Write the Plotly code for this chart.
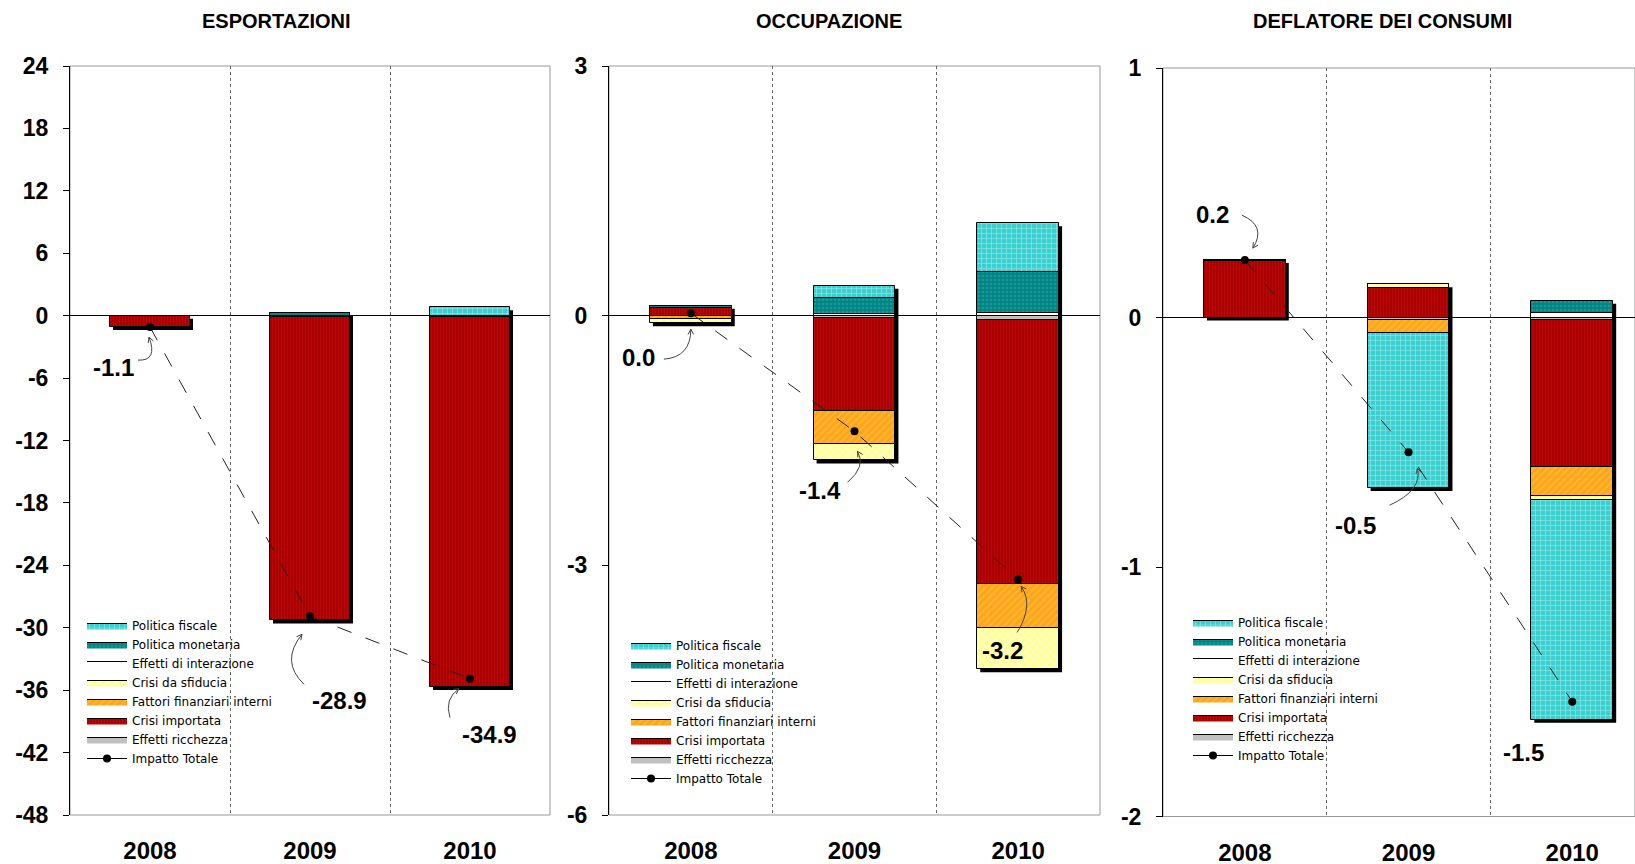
import math
import plotly.graph_objects as go

W, H = 1635, 864

# ---------------- data ----------------
years = ["2008", "2009", "2010"]
panel_titles = ["ESPORTAZIONI", "OCCUPAZIONE", "DEFLATORE DEI CONSUMI"]

# stacking order (from zero outwards)
series_names = ["Effetti ricchezza", "Crisi importata", "Fattori finanziari interni",
                "Crisi da sfiducia", "Effetti di interazione", "Politica monetaria",
                "Politica fiscale"]
total_name = "Impatto Totale"

# ESPORTAZIONI
esp_ricchezza = [0.0, -0.1, -0.1]
esp_crisi_importata = [-1.1, -29.2, -35.6]
esp_fattori = [0.0, 0.0, 0.0]
esp_sfiducia = [0.0, 0.0, 0.0]
esp_interazione = [0.0, 0.0, 0.0]
esp_monetaria = [0.0, 0.3, 0.0]
esp_fiscale = [0.0, 0.0, 0.8]
esp_totale = [-1.1, -28.9, -34.9]

# OCCUPAZIONE
occ_ricchezza = [0.0, -0.03, -0.05]
occ_crisi_importata = [0.09, -1.11, -3.18]
occ_fattori = [-0.04, -0.40, -0.52]
occ_sfiducia = [-0.05, -0.20, -0.50]
occ_interazione = [0.0, 0.02, 0.03]
occ_monetaria = [0.03, 0.19, 0.49]
occ_fiscale = [0.0, 0.15, 0.59]
occ_totale = [0.03, -1.39, -3.17]

# DEFLATORE DEI CONSUMI
def_ricchezza = [0.0, -0.01, -0.012]
def_crisi_importata = [0.225, 0.12, -0.588]
def_fattori = [0.0, -0.053, -0.117]
def_sfiducia = [0.005, 0.013, -0.016]
def_interazione = [0.0, 0.0, 0.017]
def_monetaria = [0.0, 0.0, 0.05]
def_fiscale = [0.0, -0.62, -0.879]
def_totale = [0.23, -0.54, -1.54]

y_ranges = [(-48, 24, 6), (-6, 3, 3), (-2, 1, 1)]

panel_values = [
    [esp_ricchezza, esp_crisi_importata, esp_fattori, esp_sfiducia, esp_interazione, esp_monetaria, esp_fiscale],
    [occ_ricchezza, occ_crisi_importata, occ_fattori, occ_sfiducia, occ_interazione, occ_monetaria, occ_fiscale],
    [def_ricchezza, def_crisi_importata, def_fattori, def_sfiducia, def_interazione, def_monetaria, def_fiscale],
]
panel_totals = [esp_totale, occ_totale, def_totale]

# ---------------- styles ----------------
FONT = "Liberation Sans, Arial, sans-serif"
LEG_FONT = "DejaVu Sans, Verdana, sans-serif"
styles = {
    "Politica fiscale": dict(color="#3CCFCF", pattern=dict(shape="+", fgcolor="#D8FFFF", size=5, solidity=0.25, fillmode="overlay")),
    "Politica monetaria": dict(color="#008484", pattern=dict(shape=".", fgcolor="#3AA7A7", size=4, solidity=0.35, fillmode="overlay")),
    "Effetti di interazione": dict(color="#FFFFFF"),
    "Crisi da sfiducia": dict(color="#FFFF99", pattern=dict(shape="x", fgcolor="#FFFFFF", size=6, solidity=0.3, fillmode="overlay")),
    "Fattori finanziari interni": dict(color="#FFA41C", pattern=dict(shape="/", fgcolor="#FFD040", size=5, solidity=0.35, fillmode="overlay")),
    "Crisi importata": dict(color="#A80000", pattern=dict(shape="|", fgcolor="#CC1010", size=3, solidity=0.4, fillmode="overlay")),
    "Effetti ricchezza": dict(color="#C0C0C0"),
}
legend_rank = {"Politica fiscale": 1, "Politica monetaria": 2, "Effetti di interazione": 3,
               "Crisi da sfiducia": 4, "Fattori finanziari interni": 5, "Crisi importata": 6,
               "Effetti ricchezza": 7}

# layout geometry in pixels
x_px = [(70, 550), (609, 1100), (1163, 1635)]
y_px = [(66, 815), (66, 815), (68, 816.5)]
x_ranges = [(-0.5, 2.5), (-0.5, 2.5), (-0.5, -0.5 + 472 / 163.7)]
title_x = [276, 829, 1382]
legend_pos = [(82, 611), (626, 631), (1188, 608)]
legend_gap = [0, 0, 2]

# annotation label offsets (px, y down) and curved arrows (start, control, end)
label_off = [
    [(-37, 40), (29, 84), (19, 56)],
    [(-52, 44), (-35, 59), (-16, 71)],
    [(-32, -46), (-53, 73), (-49, 51)],
]
curves = [
    [((-12, 33), (8, 34), (-1, 10)), ((-6, 68), (-30, 45), (-8, 18)), ((-20, 39), (-26, 20), (-11, 10))],
    [((-27, 46), (0, 44), (0, 16)), ((-7, 51), (12, 35), (3, 20)), ((-1, 53), (16, 25), (3, 7))],
    [((-3, -45), (22, -34), (8, -12)), ((-19, 53), (14, 38), (9, 16)), None],
]

fig = go.Figure()
shapes = []
annotations = []
xs = [0, 1, 2]
BAR_W = 0.5
SH = 3  # shadow offset px

for p in range(3):
    ax_sfx = "" if p == 0 else str(p + 1)
    xref, yref = "x" + ax_sfx, "y" + ax_sfx
    leg = "legend" if p == 0 else "legend" + str(p + 1)
    vals = panel_values[p]
    for name, v in zip(series_names, vals):
        st = styles[name]
        marker = dict(color=st["color"], line=dict(color="#000000", width=1))
        if "pattern" in st:
            marker["pattern"] = dict(st["pattern"], bgcolor=st["color"])
        fig.add_trace(go.Bar(
            x=xs, y=v, name=name, width=BAR_W, marker=marker,
            xaxis=xref, yaxis=yref, showlegend=False, hoverinfo="skip"))
        # legend entry (wide flat swatch like the original)
        fp = None
        if "pattern" in st:
            fp = dict(st["pattern"], bgcolor=st["color"])
        fig.add_trace(go.Scatter(
            x=[None], y=[None], name=name, mode="lines", fill="toself",
            fillcolor=st["color"], fillpattern=fp,
            line=dict(color="#000000", width=1),
            xaxis=xref, yaxis=yref, legend=leg, legendrank=legend_rank[name],
            legendgroup=f"p{p}_{name}", hoverinfo="skip"))
    tot = panel_totals[p]
    fig.add_trace(go.Scatter(
        x=xs, y=tot, name=total_name, mode="lines+markers",
        line=dict(color="#222222", width=1, dash="longdash"),
        marker=dict(color="#000000", size=8),
        xaxis=xref, yaxis=yref, showlegend=False, hoverinfo="skip"))
    fig.add_trace(go.Scatter(
        x=[None], y=[None], name=total_name, mode="lines+markers",
        line=dict(color="#000000", width=1),
        marker=dict(color="#000000", size=8),
        xaxis=xref, yaxis=yref, legend=leg, legendrank=8,
        legendgroup=f"p{p}_tot", hoverinfo="skip"))

    # axes
    x0p, x1p = x_px[p]
    yt, yb = y_px[p]
    ymin, ymax, dt = y_ranges[p]
    xr = x_ranges[p]
    px_per_cat = (x1p - x0p) / (xr[1] - xr[0])
    px_per_unit = (yb - yt) / (ymax - ymin)
    ytv = list(range(ymin, ymax + 1, dt))
    fig.update_layout(**{
        "xaxis" + ax_sfx: dict(
            domain=[x0p / W, x1p / W], range=list(xr), anchor=yref,
            tickmode="array", tickvals=xs, ticktext=years, ticks="",
            showgrid=False, zeroline=False, showline=False,
            tickfont=dict(family=FONT, size=24, color="#000000", weight="bold"),
            ticklabelstandoff=19,
            minor=dict(tickmode="array", tickvals=[0.5, 1.5], showgrid=True,
                       griddash="dot", gridcolor="#666666", gridwidth=1, ticks=""),
        ),
        "yaxis" + ax_sfx: dict(
            domain=[1 - yb / H, 1 - yt / H], range=[ymin, ymax], anchor=xref,
            tickmode="array", tickvals=ytv, ticktext=[str(t) for t in ytv],
            ticks="outside", ticklen=6,
            tickcolor="#000000", showline=True, linecolor="#000000", linewidth=1,
            showgrid=False, zeroline=True, zerolinecolor="#000000", zerolinewidth=1,
            tickfont=dict(family=FONT, size=23, color="#000000", weight="bold"),
            ticklabelstandoff=10,
        ),
    })
    # frame
    shapes.append(dict(type="rect", xref=xref + " domain", yref=yref + " domain",
                       x0=0, x1=1, y0=0, y1=1, line=dict(color="#999999", width=1),
                       layer="below"))
    # bar shadows (offset down-right)
    dx = SH / px_per_cat
    dy = SH / px_per_unit
    for i in xs:
        top = sum(v[i] for v in vals if v[i] > 0)
        bot = sum(v[i] for v in vals if v[i] < 0)
        shapes.append(dict(type="rect", xref=xref, yref=yref,
                           x0=i - BAR_W / 2 + dx, x1=i + BAR_W / 2 + dx,
                           y0=bot - dy, y1=top - dy,
                           fillcolor="#000000", line=dict(width=0), layer="below"))
    # total labels and curved arrows
    for i in xs:
        ox, oy = label_off[p][i]
        annotations.append(dict(x=i, y=tot[i], xref=xref, yref=yref,
                                text=f"{tot[i]:.1f}", showarrow=False,
                                xshift=ox, yshift=-oy,
                                font=dict(family=FONT, size=24, color="#000000", weight="bold")))
        c = curves[p][i]
        if c is None:
            continue
        (sx, sy), (cx, cy), (ex, ey) = c
        ddx, ddy = ex - cx, ey - cy
        n = math.hypot(ddx, ddy) or 1
        ux, uy = ddx / n, ddy / n
        hl, ang = 6, math.radians(28)
        h1 = (ex - hl * (ux * math.cos(ang) - uy * math.sin(ang)), ey - hl * (ux * math.sin(ang) + uy * math.cos(ang)))
        h2 = (ex - hl * (ux * math.cos(-ang) - uy * math.sin(-ang)), ey - hl * (ux * math.sin(-ang) + uy * math.cos(-ang)))
        path = (f"M{sx},{-sy} Q{cx},{-cy} {ex},{-ey} "
                f"M{h1[0]:.1f},{-h1[1]:.1f} L{ex},{-ey} L{h2[0]:.1f},{-h2[1]:.1f}")
        shapes.append(dict(type="path", xref=xref, yref=yref, xsizemode="pixel",
                           ysizemode="pixel", xanchor=i, yanchor=tot[i], path=path,
                           line=dict(color="#444444", width=1)))
    # title
    annotations.append(dict(x=title_x[p] / W, y=1 - 21 / H, xref="paper", yref="paper",
                            text=panel_titles[p], showarrow=False, xanchor="center",
                            yanchor="middle",
                            font=dict(family=FONT, size=20, color="#000000", weight="bold")))
    # legend
    lx, ly = legend_pos[p]
    fig.update_layout(**{
        leg: dict(x=lx / W, y=1 - ly / H, xanchor="left", yanchor="top",
                  xref="paper", yref="paper", bgcolor="rgba(0,0,0,0)",
                  font=dict(family=LEG_FONT, size=12, color="#000000"),
                  traceorder="normal", tracegroupgap=legend_gap[p], itemwidth=40)
    })

fig.update_layout(
    width=W, height=H, margin=dict(l=0, r=0, t=0, b=0, autoexpand=False),
    paper_bgcolor="#FFFFFF", plot_bgcolor="#FFFFFF",
    barmode="relative", bargap=0, showlegend=True,
    shapes=shapes, annotations=annotations,
)

fig.write_html("out.html")
